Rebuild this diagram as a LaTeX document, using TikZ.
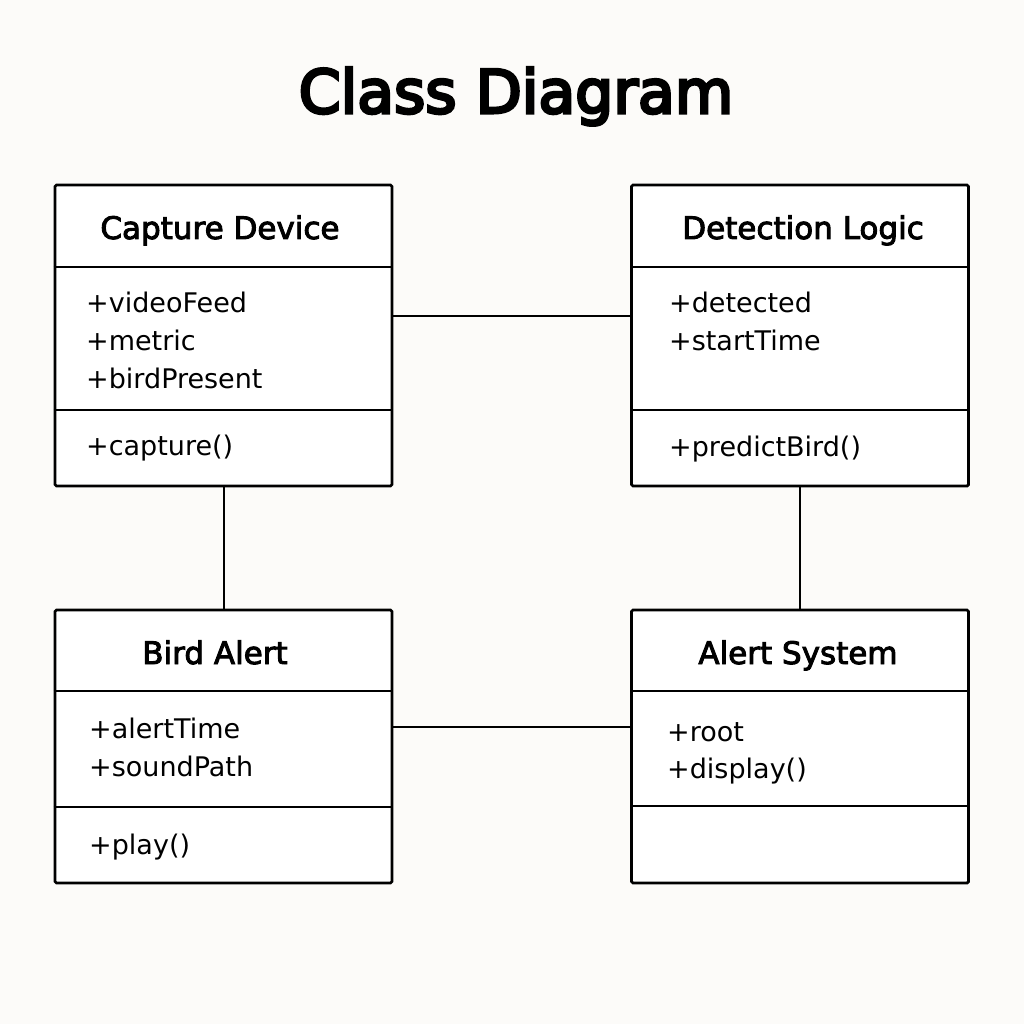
\documentclass[tikz,border=0pt]{standalone}
\usepackage{fontspec}
\setmainfont{DejaVu Sans}
\newfontfamily\semib[FakeBold=5]{DejaVu Sans}
\newfontfamily\medb[FakeBold=3]{DejaVu Sans}
\begin{document}
\begin{tikzpicture}[x=1pt,y=-1pt,
  classbox/.style={draw=black, fill=white, line width=2.8pt, rounded corners=1.5pt, minimum width=337pt, inner sep=0pt},
  divider/.style={line width=1.8pt},
  conn/.style={line width=2pt},
  ctitle/.style={anchor=base, font=\medb\fontsize{31}{36}\selectfont, inner sep=0pt},
  member/.style={anchor=base west, font=\fontsize{27}{32}\selectfont, inner sep=0pt},
  maintitle/.style={anchor=base, font=\semib\fontsize{60}{72}\selectfont, inner sep=0pt}]
\fill[fill={rgb,255:red,252;green,251;blue,249}] (0,0) rectangle (1024,1024);
\useasboundingbox (0,0) rectangle (1024,1024);

\node[maintitle] (title) at (516,113) {Class Diagram};

% Boxes
\node[classbox, minimum height=301pt] (cd) at (223.5,335.5) {};
\node[classbox, minimum height=301pt] (dl) at (800,335.5) {};
\node[classbox, minimum height=273pt] (ba) at (223.5,746.5) {};
\node[classbox, minimum height=273pt] (as) at (800,746.5) {};

% Dividers
\draw[divider] (cd.west |- 0,267) -- (cd.east |- 0,267);
\draw[divider] (cd.west |- 0,410) -- (cd.east |- 0,410);
\draw[divider] (dl.west |- 0,267) -- (dl.east |- 0,267);
\draw[divider] (dl.west |- 0,410) -- (dl.east |- 0,410);
\draw[divider] (ba.west |- 0,691) -- (ba.east |- 0,691);
\draw[divider] (ba.west |- 0,807) -- (ba.east |- 0,807);
\draw[divider] (as.west |- 0,691) -- (as.east |- 0,691);
\draw[divider] (as.west |- 0,806) -- (as.east |- 0,806);

% Capture Device
\node[ctitle] (cdt) at (220,239) {Capture Device};
\node[member] (cd1) at (86,312) {+videoFeed};
\node[member] (cd2) at (86,350) {+metric};
\node[member] (cd3) at (86,388) {+birdPresent};
\node[member] (cd4) at (86,455) {+capture()};

% Detection Logic
\node[ctitle] (dlt) at (803,239) {Detection Logic};
\node[member] (dl1) at (669,312) {+detected};
\node[member] (dl2) at (669,350) {+startTime};
\node[member] (dl3) at (669,456) {+predictBird()};

% Bird Alert
\node[ctitle] (bat) at (215,664) {Bird Alert};
\node[member] (ba1) at (89,738) {+alertTime};
\node[member] (ba2) at (89,776) {+soundPath};
\node[member] (ba3) at (89,854) {+play()};

% Alert System
\node[ctitle] (ast) at (798,664) {Alert System};
\node[member] (as1) at (667,741) {+root};
\node[member] (as2) at (667,778) {+display()};

% Connectors
\coordinate (h1) at (0,316);
\coordinate (h2) at (0,727);
\draw[conn] (cd.east |- h1) -- (dl.west |- h1);
\draw[conn] (ba.east |- h2) -- (as.west |- h2);
\draw[conn] (cd.south) -- (ba.north);
\draw[conn] (dl.south) -- (as.north);
\end{tikzpicture}
\end{document}
